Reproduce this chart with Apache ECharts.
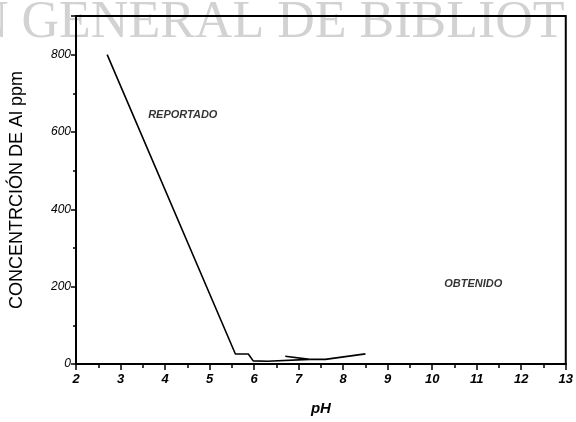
<!DOCTYPE html>
<html>
<head>
<meta charset="utf-8">
<script src="https://cdn.jsdelivr.net/npm/echarts@6/dist/echarts.min.js"></script>
<style>
  html, body { margin: 0; padding: 0; background: #fff; }
  #chart { width: 576px; height: 422px; }
</style>
</head>
<body>
<div id="chart"></div>
<script>
// Aluminium concentration (ppm) against pH
const reportadoPH = [2.7, 5.58, 5.87, 5.98, 6.3, 7.25, 6.7];
const reportadoAl = [800, 26, 26, 8, 7, 12, 20];
const obtenidoPH = [7.25, 7.6, 8.5];
const obtenidoAl = [12, 12, 26];

const curveLabels = ['REPORTADO', 'OBTENIDO'];
const labelPH = [3.62, 10.27];
const labelAl = [645, 207];

const xTicks = [2, 3, 4, 5, 6, 7, 8, 9, 10, 11, 12, 13];
const yTicks = [0, 200, 400, 600, 800];

const pairs = (xs, ys) => xs.map((x, i) => [x, ys[i]]);

const chart = echarts.init(document.getElementById('chart'));

chart.setOption({
  animation: false,
  backgroundColor: '#fff',
  graphic: [{
    type: 'text',
    z: -10,
    left: -29,
    top: -3,
    silent: true,
    style: {
      text: 'N GENERAL DE BIBLIOT',
      font: '52px "Liberation Serif"',
      fill: '#d2d2d2'
    }
  }],
  grid: {
    left: 76, right: 5, top: 16, bottom: 58,
    show: true, borderColor: '#000', borderWidth: 2,
    backgroundColor: 'transparent'
  },
  xAxis: {
    type: 'value',
    min: xTicks[0], max: xTicks[xTicks.length - 1], interval: 1,
    name: 'pH', nameLocation: 'middle', nameGap: 37,
    nameTextStyle: { fontFamily: 'Liberation Sans', fontStyle: 'italic', fontWeight: 'bold', fontSize: 15, color: '#000' },
    axisLine: { lineStyle: { color: '#000', width: 2 } },
    axisTick: { length: 6, lineStyle: { color: '#000', width: 1.5 } },
    minorTick: { show: true, splitNumber: 2, length: 4, lineStyle: { color: '#000', width: 1.5 } },
    splitLine: { show: false },
    axisLabel: {
      margin: 9,
      fontFamily: 'Liberation Sans', fontStyle: 'italic', fontWeight: 'bold', fontSize: 13, color: '#000',
      formatter: v => xTicks.includes(v) ? String(v) : ''
    }
  },
  yAxis: {
    type: 'value',
    min: 0, max: 900, interval: 200,
    name: 'CONCENTRCIÓN DE Al ppm', nameLocation: 'middle', nameGap: 50,
    nameTextStyle: { fontFamily: 'Liberation Sans', fontSize: 18, color: '#000' },
    axisLine: { lineStyle: { color: '#000', width: 2 } },
    axisTick: { length: 5, lineStyle: { color: '#000', width: 1.5 } },
    minorTick: { show: true, splitNumber: 2, length: 3, lineStyle: { color: '#000', width: 1.5 } },
    splitLine: { show: false },
    axisLabel: {
      margin: 5,
      fontFamily: 'Liberation Sans', fontStyle: 'italic', fontSize: 12, color: '#000',
      formatter: v => yTicks.includes(v) ? String(v) : ''
    }
  },
  series: [
    {
      name: curveLabels[0],
      type: 'line',
      data: pairs(reportadoPH, reportadoAl),
      showSymbol: false,
      lineStyle: { color: '#000', width: 1.6 }
    },
    {
      name: curveLabels[1],
      type: 'line',
      data: pairs(obtenidoPH, obtenidoAl),
      showSymbol: false,
      lineStyle: { color: '#000', width: 1.8 }
    },
    {
      type: 'scatter',
      symbolSize: 0,
      data: curveLabels.map((t, i) => ({ value: [labelPH[i], labelAl[i]], name: t })),
      label: {
        show: true, position: 'right', distance: 0,
        formatter: p => p.name,
        fontFamily: 'Liberation Sans', fontStyle: 'italic', fontWeight: 'bold',
        fontSize: 11, color: '#000'
      }
    }
  ]
});
</script>
</body>
</html>
